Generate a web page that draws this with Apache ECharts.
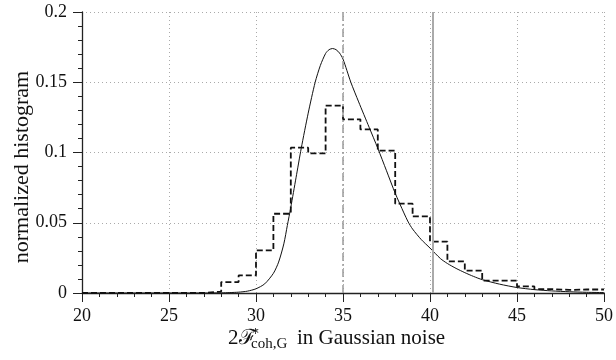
<!DOCTYPE html>
<html>
<head>
<meta charset="utf-8">
<script src="https://cdn.jsdelivr.net/npm/echarts@6/dist/echarts.min.js"></script>
<style>html,body{margin:0;padding:0;background:#fff}#c{width:616px;height:360px}</style>
</head>
<body>
<div id="c"></div>
<script>
// Histogram bin left edges and heights (bin width 1)
const binEdges = [20,21,22,23,24,25,26,27,28,29,30,31,32,33,34,35,36,37,38,39,40,41,42,43,44,45,46,47,48,49,50];
const binHeights = [0,0,0,0,0,0,0,0.001,0.0078,0.0125,0.0303,0.0564,0.1034,0.0994,0.1334,0.1236,0.1164,0.1013,0.0636,0.0545,0.0366,0.0225,0.0159,0.0088,0.0088,0.0047,0.0028,0.0022,0.0025,0.0025,0.0025];
// Theoretical curve
const curveX = [20,25,27,28,28.5,29,29.5,30,30.5,31,31.3,31.6,31.8,32,32.3,32.6,33,33.4,33.7,34,34.2,34.4,34.6,34.8,35,35.45,35.9,36.5,37,37.5,38,38.5,38.75,39,39.5,40,40.6,41,41.5,42,42.5,43,44,45,46,47,48,49,50];
const curveY = [0,0,0,0.0001,0.0003,0.0006,0.0013,0.003,0.0065,0.014,0.022,0.035,0.048,0.061,0.082,0.103,0.128,0.15,0.162,0.1705,0.1732,0.174,0.1732,0.1708,0.1665,0.15,0.136,0.118,0.103,0.087,0.071,0.057,0.0505,0.0455,0.038,0.032,0.0245,0.021,0.0175,0.0145,0.0118,0.0095,0.0063,0.0039,0.0024,0.0015,0.0009,0.0005,0.0003];
// Reference vertical lines
const dashDotLineX = [35];
const solidLineX = [40.15];
const xTicks = [20,25,30,35,40,45,50];
const yTicks = [0,0.05,0.1,0.15,0.2];

const serif = '"Liberation Serif","DejaVu Serif",serif';
const chart = echarts.init(document.getElementById('c'), null, {renderer:'canvas'});
const histData = binEdges.map((x,i)=>[x, binHeights[i]]);
const curveData = curveX.map((x,i)=>[x, curveY[i]]);
chart.setOption({
  animation:false,
  backgroundColor:'#fff',
  grid:{left:82, right:9, top:12, bottom:67},
  xAxis:{
    type:'value', min:xTicks[0], max:xTicks[xTicks.length-1], interval:5,
    axisLine:{lineStyle:{color:'#222', width:1.3}},
    axisTick:{length:9, lineStyle:{color:'#222', width:1}},
    minorTick:{show:true, splitNumber:5, length:4, lineStyle:{color:'#222', width:1}},
    axisLabel:{fontFamily:serif, fontSize:18, color:'#111', margin:14},
    splitLine:{show:true, lineStyle:{color:'#aaa', type:[1,3], width:1}}
  },
  yAxis:{
    type:'value', min:yTicks[0], max:yTicks[yTicks.length-1], interval:0.05,
    axisLine:{show:true, lineStyle:{color:'#222', width:1.3}},
    axisTick:{show:true, length:9, lineStyle:{color:'#222', width:1}},
    minorTick:{show:true, splitNumber:5, length:4, lineStyle:{color:'#222', width:1}},
    axisLabel:{fontFamily:serif, fontSize:18, color:'#111', margin:15},
    splitLine:{show:true, lineStyle:{color:'#aaa', type:[1,3], width:1}}
  },
  series:[
    {
      type:'line', data:histData, step:'end', symbol:'none',
      lineStyle:{color:'#111', width:1.8, type:[6,3]},
      z:3,
      markLine:{
        silent:true, symbol:'none', label:{show:false},
        data:[
          ...dashDotLineX.map(v=>({xAxis:v, lineStyle:{color:'#9a9a9a', width:1.5, type:[8,3,2,3]}})),
          ...solidLineX.map(v=>({xAxis:v, lineStyle:{color:'#aaa', width:2, type:'solid'}}))
        ]
      }
    },
    {
      type:'line', data:curveData, symbol:'none', smooth:0.25,
      lineStyle:{color:'#111', width:1}, z:4
    }
  ],
  graphic:[
    {type:'text', x:22, y:167, rotation:Math.PI/2,
     style:{text:'normalized histogram', font:'22px '+serif, fill:'#111', textAlign:'center', textVerticalAlign:'middle'}},
    {type:'text', x:228, y:338,
     style:{text:'2ℱ', font:'21px '+serif, fill:'#111', textAlign:'left', textVerticalAlign:'middle'}},
    {type:'text', x:251, y:332,
     style:{text:'∗', font:'13px '+serif, fill:'#111', textAlign:'left', textVerticalAlign:'middle'}},
    {type:'text', x:251, y:344,
     style:{text:'coh,G', font:'15px '+serif, fill:'#111', textAlign:'left', textVerticalAlign:'middle'}},
    {type:'text', x:297, y:338,
     style:{text:'in Gaussian noise', font:'21px '+serif, fill:'#111', textAlign:'left', textVerticalAlign:'middle'}}
  ]
});
</script>
</body>
</html>
